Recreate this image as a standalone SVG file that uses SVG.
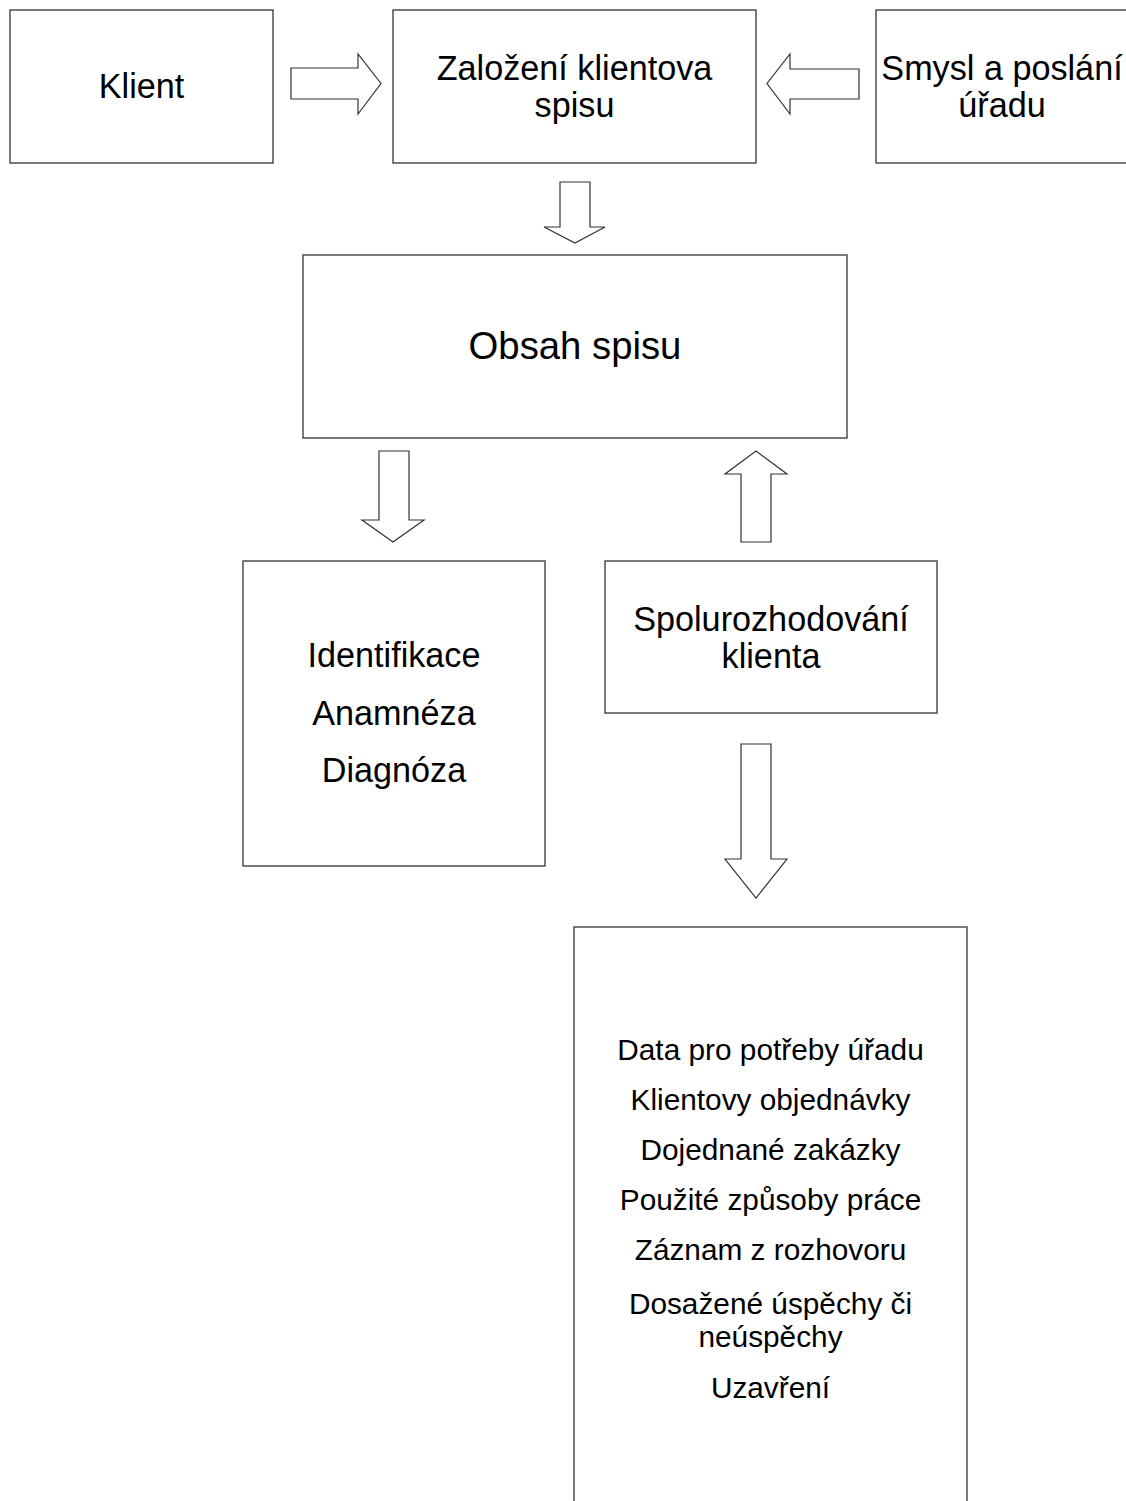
<svg xmlns="http://www.w3.org/2000/svg" width="1126" height="1501" viewBox="0 0 1126 1501">
<style>
.box{fill:#fff;stroke:#333;stroke-width:1.3}
.arr{fill:#fff;stroke:#333;stroke-width:1.2;stroke-linejoin:miter}
text{font-family:"Liberation Sans",Arial,sans-serif;fill:#000;text-anchor:middle}
.t33{font-size:34.2px}
.t37{font-size:38.3px}
.t29{font-size:29.8px}
</style>
<rect width="1126" height="1501" fill="#fff"/>
<g id="connectors">
<path class="arr" d="M291,68 H358 V54 L381,83.5 L358,114 V99 H291 Z"/>
<path class="arr" d="M859,69 H790 V54 L767,83.5 L790,114 V99 H859 Z"/>
<path class="arr" d="M560,182 H590 V227 H605 L575,243 L544,227 H560 Z"/>
<path class="arr" d="M379,451 H409 V520 H424 L393,542 L362,520 H379 Z"/>
<path class="arr" d="M756,451 L787,474 H771 V542 H741 V474 H725 Z"/>
<path class="arr" d="M741,744 H771 V859 H787 L756,898 L725,859 H741 Z"/>
</g>
<g id="klient">
<rect class="box" x="10" y="10" width="263" height="153"/>
<text class="t33" x="141.5" y="97.5">Klient</text>
</g>
<g id="zalozeni">
<rect class="box" x="393" y="10" width="363" height="153"/>
<text class="t33" x="574.5" y="79.5">Založení klientova</text>
<text class="t33" x="574.5" y="116.5">spisu</text>
</g>
<g id="smysl">
<rect class="box" x="876" y="10" width="260" height="153"/>
<text class="t33" x="1002" y="79.5">Smysl a poslání</text>
<text class="t33" x="1002" y="116.5">úřadu</text>
</g>
<g id="obsah">
<rect class="box" x="303" y="255" width="544" height="183"/>
<text class="t37" x="575" y="359">Obsah spisu</text>
</g>
<g id="identifikace">
<rect class="box" x="243" y="561" width="302" height="305"/>
<text class="t33" x="394" y="667">Identifikace</text>
<text class="t33" x="394" y="724.5">Anamnéza</text>
<text class="t33" x="394" y="782">Diagnóza</text>
</g>
<g id="spolurozhodovani">
<rect class="box" x="605" y="561" width="332" height="152"/>
<text class="t33" x="771" y="630.5">Spolurozhodování</text>
<text class="t33" x="771" y="668">klienta</text>
</g>
<g id="data">
<rect class="box" x="574" y="927" width="393" height="600"/>
<text class="t29" x="770.5" y="1060">Data pro potřeby úřadu</text>
<text class="t29" x="770.5" y="1110">Klientovy objednávky</text>
<text class="t29" x="770.5" y="1160">Dojednané zakázky</text>
<text class="t29" x="770.5" y="1210">Použité způsoby práce</text>
<text class="t29" x="770.5" y="1260">Záznam z rozhovoru</text>
<text class="t29" x="770.5" y="1314">Dosažené úspěchy či</text>
<text class="t29" x="770.5" y="1347">neúspěchy</text>
<text class="t29" x="770.5" y="1398">Uzavření</text>
</g>
</svg>
